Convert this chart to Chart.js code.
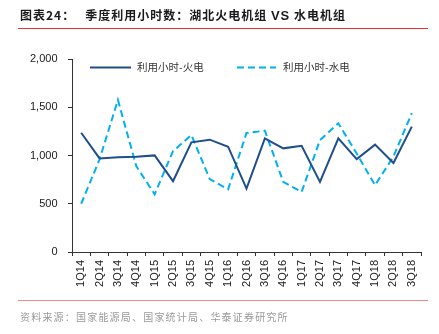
<!DOCTYPE html>
<html>
<head>
<meta charset="UTF-8" />
<title>季度利用小时数</title>
<script src="https://cdn.jsdelivr.net/npm/chart.js@4/dist/chart.umd.min.js"></script>
<style>
	body{ margin:0; background:#fff; }
	.page{ position:relative; width:439px; height:334px; overflow:hidden; }
	.title{
		position:absolute; left:20px; top:6px;
		font-family:"Noto Sans CJK SC", "Liberation Sans", sans-serif;
		font-size:12px; font-weight:bold; color:#1a1a1a; letter-spacing:1px; white-space:nowrap;
	}
	.title .sub{ margin-left:10px; }
	.title .vs{ font-family:"Liberation Sans", Arial, sans-serif; font-size:13px; }
	.redline{ position:absolute; left:18px; width:410px; top:28px; height:0; border-top:1.5px solid #E8312F; }
	.redline2{ position:absolute; left:18px; width:410px; top:300px; height:0; border-top:1.5px solid #F08A86; }
	.source{
		position:absolute; left:20px; top:309px;
		font-family:"Noto Sans CJK SC", sans-serif;
		font-size:10px; color:#9a9a9a; letter-spacing:1.2px; white-space:nowrap;
	}
	.chart{ position:absolute; left:0; top:0; width:439px; height:334px; }
</style>
</head>
<body>
<div class="page">
	<div class="chart"><canvas id="hoursChart"></canvas></div>
	<div class="title">图表24：<span class="sub">季度利用小时数：湖北火电机组 <span class="vs">VS</span> 水电机组</span></div>
	<div class="redline"></div>
	<div class="redline2"></div>
	<div class="source">资料来源：国家能源局、国家统计局、华泰证券研究所</div>
</div>

<script>
	// 季度
	var quarters = ['1Q14','2Q14','3Q14','4Q14','1Q15','2Q15','3Q15','4Q15','1Q16','2Q16',
		'3Q16','4Q16','1Q17','2Q17','3Q17','4Q17','1Q18','2Q18','3Q18'];

	// 利用小时-火电
	var thermal = [1236, 970, 983, 986, 1001, 734, 1136, 1164, 1091, 657,
		1178, 1074, 1101, 727, 1178, 963, 1113, 922, 1299];

	// 利用小时-水电
	var hydro = [500, 960, 1576, 890, 598, 1046, 1212, 755, 650, 1233,
		1257, 727, 622, 1160, 1334, 1020, 692, 990, 1438];

	var thermalName = '利用小时-火电';
	var hydroName = '利用小时-水电';

	var axisColor = '#333333';

	// 图例画在图内
	var legendPlugin = {
		id: 'innerLegend',
		afterDraw: function (chart) {
			var ctx = chart.ctx;
			var items = [
				{ x1: 90, x2: 131, tx: 137, ds: chart.data.datasets[0] },
				{ x1: 237, x2: 276, tx: 283, ds: chart.data.datasets[1] }
			];
			ctx.save();
			items.forEach(function (it) {
				ctx.beginPath();
				ctx.strokeStyle = it.ds.borderColor;
				ctx.lineWidth = 2;
				ctx.setLineDash(it.ds.borderDash || []);
				ctx.moveTo(it.x1, 67.5);
				ctx.lineTo(it.x2, 67.5);
				ctx.stroke();
				ctx.setLineDash([]);
				ctx.fillStyle = '#333';
				ctx.font = '10.5px "Noto Sans CJK SC", sans-serif';
				ctx.textBaseline = 'middle';
				ctx.fillText(it.ds.label, it.tx, 67.5);
			});
			ctx.restore();
		}
	};

	var ctx = document.getElementById('hoursChart');
	var lineChart = new Chart(ctx, {
		type: 'line',
		data: {
			labels: quarters,
			datasets: [{
				label: thermalName,
				data: thermal,
				borderColor: '#1F4E8C',
				backgroundColor: '#1F4E8C',
				borderWidth: 2,
				pointRadius: 0,
				tension: 0
			}, {
				label: hydroName,
				data: hydro,
				borderColor: '#00B0F0',
				backgroundColor: '#00B0F0',
				borderWidth: 2,
				borderDash: [7, 4],
				pointRadius: 0,
				tension: 0
			}]
		},
		options: {
			responsive: true,
			maintainAspectRatio: false,
			animation: false,
			devicePixelRatio: 1,
			layout: { padding: { left: 0, top: 59, right: 18, bottom: 42 } },
			plugins: {
				legend: { display: false },
				tooltip: { enabled: false }
			},
			scales: {
				x: {
					offset: true,
					afterFit: function (scale) { scale.height = 40; },
					border: { display: true, color: axisColor, width: 1 },
					grid: { display: true, drawOnChartArea: false, offset: true, tickLength: 4, color: axisColor },
					ticks: {
						minRotation: 90, maxRotation: 90, autoSkip: false, padding: 4,
						color: '#1a1a1a',
						font: { family: '"Liberation Sans", Arial, sans-serif', size: 11 }
					}
				},
				y: {
					min: 0, max: 2000,
					afterFit: function (scale) { scale.width = 72; },
					border: { display: true, color: axisColor, width: 1 },
					grid: { display: true, drawOnChartArea: false, tickLength: 4, color: axisColor },
					ticks: {
						stepSize: 500, padding: 10.5,
						color: '#1a1a1a',
						font: { family: '"Liberation Sans", Arial, sans-serif', size: 11 },
						callback: function (v) { return v.toLocaleString('en-US'); }
					}
				}
			}
		},
		plugins: [legendPlugin]
	});
</script>
</body>
</html>
